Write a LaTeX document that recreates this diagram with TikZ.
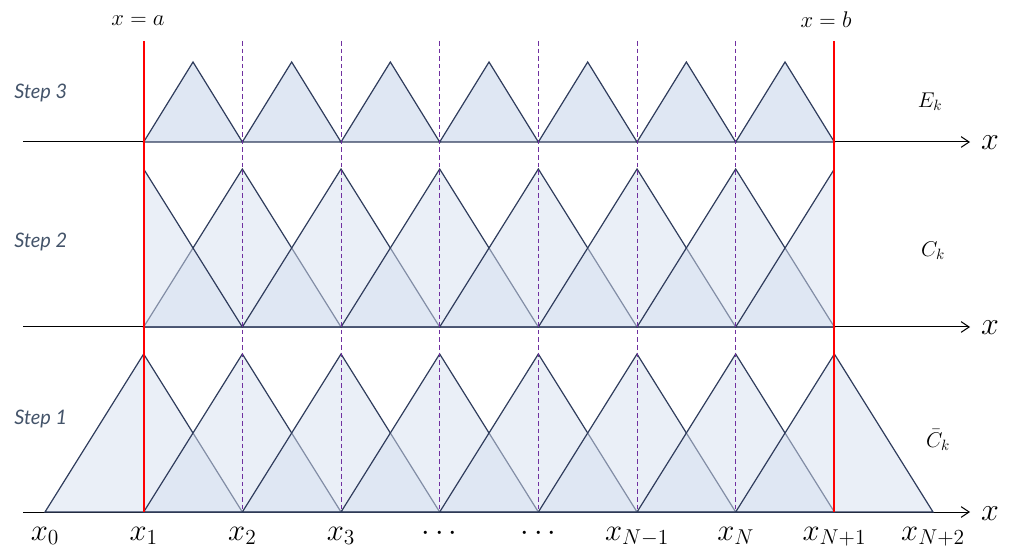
\RequirePackage{fix-cm}
\documentclass[tikz,border=0pt]{standalone}
\usepackage{fontspec}
\newfontfamily\stepfont{Lato}
\usetikzlibrary{arrows.meta}
\definecolor{navy}{RGB}{47,60,92}
\definecolor{trifill}{RGB}{213,223,239}
\definecolor{trifillE}{RGB}{223,231,243}
\definecolor{steptext}{RGB}{68,84,106}
\definecolor{dashpurple}{RGB}{112,48,160}
\tikzset{
  tri/.style={draw=navy, line width=0.9pt, fill=trifill, fill opacity=0.5, line join=miter},
  triE/.style={draw=navy, line width=0.9pt, fill=trifillE, line join=miter},
  axisline/.style={draw=black, line width=0.75pt, -{Straight Barb[length=6pt,width=8pt]}},
  boundline/.style={draw=red, line width=1.5pt},
  gridline/.style={draw=dashpurple, line width=0.75pt, dash pattern=on 3.5pt off 2.2pt},
  steplabel/.style={font=\stepfont\itshape\fontsize{15}{17}\selectfont, text=steptext, anchor=west, inner sep=0pt},
  funlabel/.style={font=\fontsize{16}{18}\selectfont, inner sep=0pt},
  toplabel/.style={font=\fontsize{17}{19}\selectfont, inner sep=0pt},
  ticklabel/.style={font=\fontsize{23}{26}\selectfont, inner sep=0pt, anchor=base},
  axislabel/.style={font=\fontsize{24}{26}\selectfont, inner sep=0pt}
}
\begin{document}
\begin{tikzpicture}[x=0.75pt,y=-0.75pt]
\useasboundingbox (0,0) rectangle (1011,552);
\def\dx{98.67}
\def\xo{45}
% axes
\coordinate (a3s) at (23,142); \coordinate (a3e) at (970,142);
\coordinate (a2s) at (23,327); \coordinate (a2e) at (970,327);
\coordinate (a1s) at (23,512); \coordinate (a1e) at (970,512);
\draw[axisline] (a3s) -- (a3e);
\draw[axisline] (a2s) -- (a2e);
\draw[axisline] (a1s) -- (a1e);
% step 3 triangles
\foreach \i in {1,...,7}{
  \pgfmathsetmacro\xl{\xo+\dx*\i}
  \pgfmathsetmacro\xr{\xl+\dx}
  \pgfmathsetmacro\xm{\xl+\dx/2}
  \filldraw[triE] (\xl,142) -- (\xm,62) -- (\xr,142) -- cycle;
}
% step 2 triangles
\foreach \i in {2,...,7}{
  \pgfmathsetmacro\xm{\xo+\dx*\i}
  \pgfmathsetmacro\xl{\xm-\dx}
  \pgfmathsetmacro\xr{\xm+\dx}
  \filldraw[tri] (\xl,327) -- (\xm,169) -- (\xr,327) -- cycle;
}
\pgfmathsetmacro\xs{\xo+\dx*7}
\pgfmathsetmacro\xe{\xo+\dx*8}
\filldraw[tri] (\xs,327) -- (\xe,169) -- (\xe,327) -- cycle;
\pgfmathsetmacro\xs{\xo+\dx*1}
\pgfmathsetmacro\xe{\xo+\dx*2}
\filldraw[tri] (\xs,327) -- (\xs,169) -- (\xe,327) -- cycle;
% step 1 triangles
\foreach \i in {1,...,8}{
  \pgfmathsetmacro\xm{\xo+\dx*\i}
  \pgfmathsetmacro\xl{\xm-\dx}
  \pgfmathsetmacro\xr{\xm+\dx}
  \filldraw[tri] (\xl,512) -- (\xm,354) -- (\xr,512) -- cycle;
}
% vertical lines
\foreach \i in {2,...,7}{
  \pgfmathsetmacro\xv{\xo+\dx*\i}
  \coordinate (g\i t) at (\xv,41);
  \coordinate (g\i b) at (\xv,512);
  \draw[gridline] (g\i t) -- (g\i b);
}
\pgfmathsetmacro\xa{\xo+\dx}
\pgfmathsetmacro\xb{\xo+\dx*8}
\coordinate (at) at (\xa,41); \coordinate (ab) at (\xa,512);
\coordinate (bt) at (\xb,41); \coordinate (bb) at (\xb,512);
\draw[boundline] (at) -- (ab);
\draw[boundline] (bt) -- (bb);
% labels
\node[toplabel] (la) at (138,21) {$x=a$};
\node[toplabel] (lb) at (826,20) {$x=b$};
\node[steplabel] (s3) at (14,93) {Step 3};
\node[steplabel] (s2) at (14,242) {Step 2};
\node[steplabel] (s1) at (14,419) {Step 1};
\node[funlabel] (ek) at (930,102) {$E_k$};
\node[funlabel] (ck) at (933,251) {$C_k$};
\node[funlabel] (cbk) at (938,440) {$\bar{C}_k$};
\node[axislabel] (x3) at (990,143) {$x$};
\node[axislabel] (x2) at (990,328) {$x$};
\node[axislabel] (x1) at (990,514) {$x$};
\foreach \i/\t in {0/x_0,1/x_1,2/x_2,3/x_3,4/\cdots,5/\cdots,6/x_{N-1},7/x_N,8/x_{N+1},9/x_{N+2}}{
  \pgfmathsetmacro\xt{\xo+\dx*\i}
  \node[ticklabel] (t\i) at (\xt,540) {$\t$};
}
\end{tikzpicture}
\end{document}
